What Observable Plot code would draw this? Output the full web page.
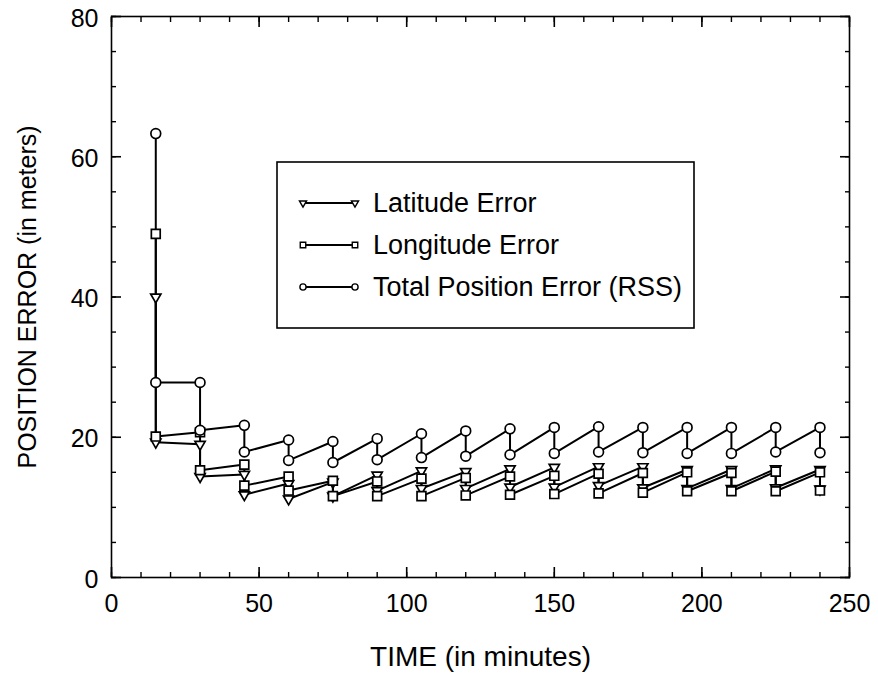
<!DOCTYPE html>
<html>
<head>
<meta charset="utf-8">
<script src="https://cdn.jsdelivr.net/npm/d3@7"></script>
<script src="https://cdn.jsdelivr.net/npm/@observablehq/plot@0.6"></script>
<style>
  html, body { margin: 0; padding: 0; background: white; }
</style>
</head>
<body>
<div id="chart"></div>
<script>
// ---- data ----
const times = [15, 30, 45, 60, 75, 90, 105, 120, 135, 150, 165, 180, 195, 210, 225, 240];

const latHigh = [40.0, 19.0, 14.7, 13.4, 13.6, 14.6, 15.2, 15.1, 15.5, 15.7, 15.8, 15.8, 15.4, 15.4, 15.5, 15.4];
const latLow  = [19.3, 14.4, 11.8, 11.2, 11.6, 12.4, 12.7, 12.7, 12.9, 12.9, 13.1, 12.8, 12.7, 12.7, 12.8, 12.6];

const lonHigh = [49.0, 20.7, 16.1, 14.4, 13.8, 13.7, 14.1, 14.2, 14.4, 14.5, 14.8, 14.9, 15.0, 14.9, 15.1, 15.0];
const lonLow  = [20.1, 15.3, 13.1, 12.4, 11.6, 11.6, 11.6, 11.7, 11.8, 11.9, 12.0, 12.1, 12.3, 12.3, 12.3, 12.4];

const totHigh = [63.3, 27.8, 21.7, 19.6, 19.4, 19.8, 20.5, 20.9, 21.2, 21.4, 21.5, 21.4, 21.4, 21.4, 21.4, 21.4];
const totLow  = [27.8, 21.0, 17.9, 16.7, 16.4, 16.8, 17.1, 17.3, 17.5, 17.7, 17.9, 17.8, 17.7, 17.7, 17.9, 17.8];

const seriesNames = ["Latitude Error", "Longitude Error", "Total Position Error (RSS)"];
const xTickLabels = [0, 50, 100, 150, 200, 250];
const yTickLabels = [0, 20, 40, 60, 80];
const xMinorTicks = d3.range(0, 251, 10);
const yMinorTicks = d3.range(0, 81, 5);

// sawtooth sequence: predicted (high) then updated (low) at each time
function seq(high, low) {
  return times.flatMap((t, i) => [{t, v: high[i]}, {t, v: low[i]}]);
}
const lat = seq(latHigh, latLow);
const lon = seq(lonHigh, lonLow);
const tot = seq(totHigh, totLow);

const font = "'Liberation Sans', Arial, Helvetica, sans-serif";

const svg = Plot.plot({
  width: 878,
  height: 676,
  marginLeft: 111,
  marginRight: 29,
  marginTop: 16,
  marginBottom: 99,
  x: {domain: [0, 250]},
  y: {domain: [0, 80]},
  style: {fontFamily: font, fontSize: "25px", background: "white", color: "black"},
  marks: [
    // inward ticks on all four sides
    Plot.axisX({anchor: "bottom", ticks: xMinorTicks, tickSize: -5, fill: "none", label: null, strokeWidth: 1.4}),
    Plot.axisX({anchor: "bottom", ticks: xTickLabels, tickSize: -10, fill: "none", label: null, strokeWidth: 1.6}),
    Plot.axisX({anchor: "top", ticks: xMinorTicks, tickSize: -5, fill: "none", label: null, strokeWidth: 1.4}),
    Plot.axisX({anchor: "top", ticks: xTickLabels, tickSize: -10, fill: "none", label: null, strokeWidth: 1.6}),
    Plot.axisY({anchor: "left", ticks: yMinorTicks, tickSize: -5, fill: "none", label: null, strokeWidth: 1.4}),
    Plot.axisY({anchor: "left", ticks: yTickLabels, tickSize: -10, fill: "none", label: null, strokeWidth: 1.6}),
    Plot.axisY({anchor: "right", ticks: yMinorTicks, tickSize: -5, fill: "none", label: null, strokeWidth: 1.4}),
    Plot.axisY({anchor: "right", ticks: yTickLabels, tickSize: -10, fill: "none", label: null, strokeWidth: 1.6}),
    // tick labels
    Plot.axisX({anchor: "bottom", ticks: xTickLabels, tickSize: 0, tickPadding: 17, label: null, tickFormat: d3.format("d"), fontSize: 25}),
    Plot.axisY({anchor: "left", ticks: yTickLabels, tickSize: 0, tickPadding: 13, label: null, tickFormat: d3.format("d"), fontSize: 25, dy: 2}),
    // axis titles
    Plot.text(["TIME (in minutes)"], {frameAnchor: "bottom", dy: 88, fontSize: 28, fill: "black", textAnchor: "middle"}),
    Plot.text(["POSITION ERROR (in meters)"], {frameAnchor: "left", dx: -84, rotate: -90, fontSize: 25, fill: "black", textAnchor: "middle"}),
    Plot.frame({stroke: "black", strokeWidth: 1.6}),
    // series lines
    Plot.line(lat, {x: "t", y: "v", stroke: "black", strokeWidth: 2}),
    Plot.line(lon, {x: "t", y: "v", stroke: "black", strokeWidth: 2}),
    Plot.line(tot, {x: "t", y: "v", stroke: "black", strokeWidth: 2}),
    // markers
    Plot.dot(lat, {x: "t", y: "v", symbol: "triangle", rotate: 180, r: 3.8, stroke: "black", fill: "white", strokeWidth: 1.7}),
    Plot.dot(lon, {x: "t", y: "v", symbol: "square", r: 5, stroke: "black", fill: "white", strokeWidth: 1.7}),
    Plot.dot(tot, {x: "t", y: "v", symbol: "circle", r: 4.9, stroke: "black", fill: "white", strokeWidth: 1.7})
  ]
});

// ---- legend box drawn inside the plot's svg ----
const g = d3.select(svg).append("g").attr("class", "legend");
g.append("rect")
  .attr("x", 277).attr("y", 162).attr("width", 417).attr("height", 166)
  .attr("fill", "white").attr("stroke", "black").attr("stroke-width", 1.6);
const rowY = [203, 245, 287];
const sym = [d3.symbolTriangle, d3.symbolSquare, d3.symbolCircle];
const symSize = [22, 30, 30];
seriesNames.forEach((name, i) => {
  const y = rowY[i];
  g.append("line").attr("x1", 303).attr("x2", 355).attr("y1", y).attr("y2", y)
    .attr("stroke", "black").attr("stroke-width", 1.8);
  [303, 355].forEach(x => {
    g.append("path")
      .attr("d", d3.symbol(sym[i], symSize[i])())
      .attr("transform", `translate(${x},${y})` + (i === 0 ? " rotate(180)" : ""))
      .attr("fill", "white").attr("stroke", "black").attr("stroke-width", 1.4);
  });
  g.append("text").attr("x", 373).attr("y", y).attr("dy", "0.35em")
    .attr("text-anchor", "start")
    .attr("font-family", font).attr("font-size", 27).attr("fill", "black")
    .text(name);
});

document.getElementById("chart").appendChild(svg);
</script>
</body>
</html>
